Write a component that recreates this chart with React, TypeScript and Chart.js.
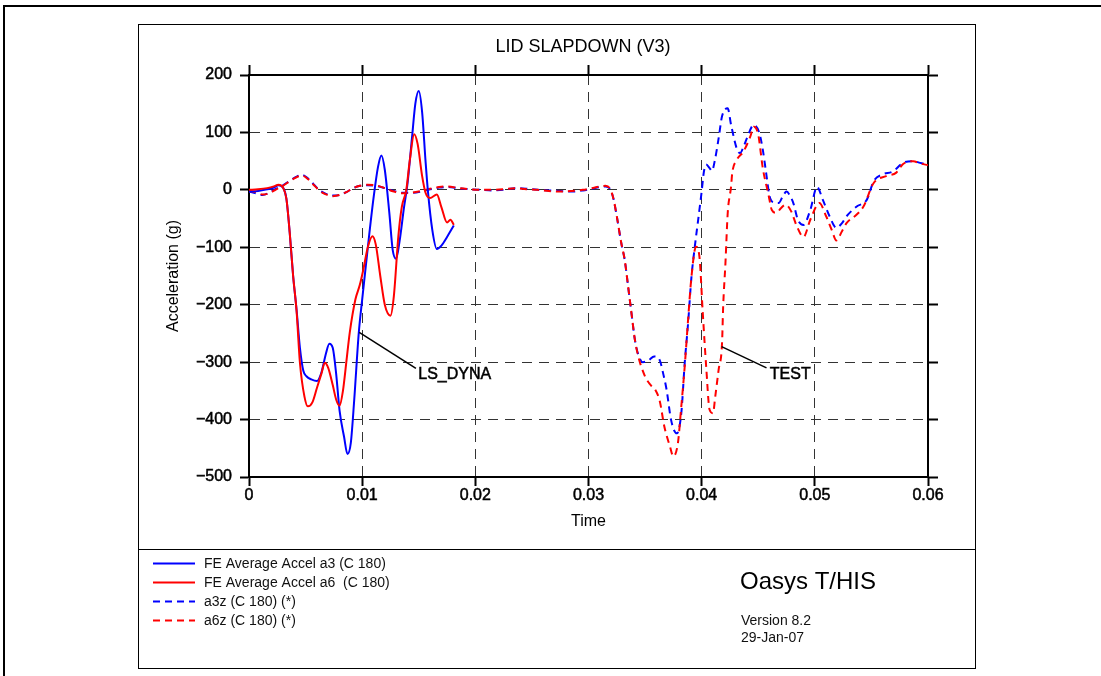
import React, { useEffect, useRef } from 'react';
import { Chart, registerables } from 'chart.js';

Chart.register(...registerables);

const FONT = "'Liberation Sans', Arial, Helvetica, sans-serif";

// ---------- DATA ----------
const chartTitle = 'LID SLAPDOWN (V3)';
const xAxisTitle = 'Time';
const yAxisTitle = 'Acceleration (g)';

const xTickValues = [0, 0.01, 0.02, 0.03, 0.04, 0.05, 0.06];
const xTickLabels = ['0', '0.01', '0.02', '0.03', '0.04', '0.05', '0.06'];
const yTickValues = [-500, -400, -300, -200, -100, 0, 100, 200];
const yTickLabels = ['\u2212500', '\u2212400', '\u2212300', '\u2212200', '\u2212100', '0', '100', '200'];

const seriesLabels = [
  'FE Average Accel a3 (C 180)',
  'FE Average Accel a6  (C 180)',
  'a3z (C 180) (*)',
  'a6z (C 180) (*)',
];

// FE Average Accel a3 (solid blue) [time, g]
const feA3Points: [number, number][] = [
  [0, -3], [0.0008, -2], [0.0016, 1], [0.0022, 4], [0.0026, 8], [0.0030, 4], [0.0033, -15],
  [0.0036, -75], [0.0039, -150], [0.0042, -208], [0.0045, -275], [0.0048, -315], [0.0051, -325],
  [0.0055, -330], [0.0060, -333], [0.0064, -318], [0.0068, -285], [0.0071, -268], [0.0074, -275],
  [0.0077, -320], [0.0080, -384], [0.0084, -430], [0.0087, -460], [0.0090, -440], [0.0093, -365],
  [0.0097, -249], [0.0100, -191], [0.0105, -100], [0.0110, -15], [0.0114, 40], [0.0117, 60],
  [0.0120, 35], [0.0124, -40], [0.0127, -105], [0.0130, -120], [0.0133, -90], [0.0137, -30],
  [0.0140, 10], [0.0144, 90], [0.0147, 150], [0.0150, 172], [0.0153, 135], [0.0156, 50],
  [0.0158, 0], [0.0162, -70], [0.0166, -103], [0.0170, -97], [0.0175, -82], [0.0181, -62],
];

// FE Average Accel a6 (solid red)
const feA6Points: [number, number][] = [
  [0, 0], [0.0008, 1], [0.0016, 3], [0.0022, 6], [0.0026, 9], [0.0030, 4], [0.0033, -15],
  [0.0036, -75], [0.0039, -150], [0.0042, -210], [0.0045, -301], [0.0049, -360], [0.0052, -377],
  [0.0056, -370], [0.0060, -345], [0.0064, -320], [0.0067, -301], [0.0070, -310], [0.0074, -340],
  [0.0077, -365], [0.0080, -376], [0.0083, -350], [0.0086, -300], [0.0089, -249], [0.0094, -191],
  [0.0098, -165], [0.0101, -139], [0.0105, -100], [0.0109, -81], [0.0112, -95], [0.0116, -150],
  [0.0120, -200], [0.0125, -219], [0.0128, -185], [0.0132, -80], [0.0135, -30], [0.0139, 0],
  [0.0142, 50], [0.0146, 97], [0.0149, 80], [0.0153, 24], [0.0156, -5], [0.0160, -14],
  [0.0166, -8], [0.0170, -30], [0.0175, -57], [0.0178, -52], [0.0181, -61],
];

// a3z test (dashed blue)
const a3zPoints: [number, number][] = [
  [0, -3], [0.0006, -6], [0.0012, -9], [0.0018, -5], [0.0024, 2], [0.0030, 8], [0.0036, 16],
  [0.0042, 23], [0.0047, 26], [0.0052, 20], [0.0057, 10], [0.0062, 0], [0.0068, -7], [0.0074, -10],
  [0.0080, -9], [0.0086, -4], [0.0092, 3], [0.0098, 7], [0.0105, 8], [0.0112, 7], [0.0120, 3],
  [0.0128, -2], [0.0136, -5], [0.0144, -5], [0.0152, -3], [0.0160, 1], [0.0168, 4], [0.0176, 5],
  [0.0185, 3], [0.0195, 1], [0.0205, 0], [0.0215, -1], [0.0225, 0], [0.0235, 3], [0.0245, 2],
  [0.0255, 0], [0.0265, -1], [0.0275, -2], [0.0285, -3], [0.0295, -1], [0.0303, 2], [0.0310, 5],
  [0.0315, 6], [0.0319, 2], [0.0322, -15], [0.0325, -46], [0.0329, -93], [0.0332, -122],
  [0.0335, -168], [0.0338, -215], [0.0341, -261], [0.0344, -287], [0.0348, -300], [0.0353, -297],
  [0.0358, -290], [0.0363, -297], [0.0366, -320], [0.0369, -348], [0.0373, -401], [0.0378, -424],
  [0.0382, -389], [0.0385, -302], [0.0388, -232], [0.0391, -151], [0.0394, -98], [0.0398, -35],
  [0.0400, -3], [0.0402, 32], [0.0404, 44], [0.0407, 38], [0.0409, 33], [0.0412, 55], [0.0415, 90],
  [0.0418, 128], [0.0423, 142], [0.0426, 113], [0.0431, 72], [0.0434, 64], [0.0437, 75],
  [0.0440, 90], [0.0446, 113], [0.0451, 99], [0.0454, 70], [0.0457, 29], [0.0460, -11],
  [0.0464, -22], [0.0468, -23], [0.0472, -10], [0.0475, -3], [0.0478, -10], [0.0481, -23],
  [0.0485, -52], [0.0490, -61], [0.0496, -35], [0.0502, 5], [0.0507, -17], [0.0513, -46],
  [0.0519, -66], [0.0524, -58], [0.0528, -46], [0.0537, -29], [0.0546, -17], [0.0552, 15],
  [0.0560, 27], [0.0569, 32], [0.0578, 47], [0.0587, 50], [0.0593, 47], [0.0600, 44],
];

// a6z test (dashed red)
const a6zPoints: [number, number][] = [
  [0, -2], [0.0006, -4], [0.0012, -8], [0.0018, -6], [0.0024, 1], [0.0030, 7], [0.0036, 15],
  [0.0042, 22], [0.0047, 25], [0.0052, 19], [0.0057, 9], [0.0062, -1], [0.0068, -8], [0.0074, -11],
  [0.0080, -9], [0.0086, -4], [0.0092, 3], [0.0098, 7], [0.0105, 9], [0.0112, 8], [0.0120, 3],
  [0.0128, -3], [0.0136, -6], [0.0144, -5], [0.0152, -2], [0.0160, 2], [0.0168, 5], [0.0176, 6],
  [0.0185, 3], [0.0195, 1], [0.0205, 0], [0.0215, 0], [0.0225, 1], [0.0235, 3], [0.0245, 1],
  [0.0255, 0], [0.0265, -2], [0.0275, -3], [0.0285, -2], [0.0295, 0], [0.0303, 3], [0.0310, 6],
  [0.0315, 7], [0.0319, 2], [0.0322, -15], [0.0325, -46], [0.0329, -93], [0.0332, -122],
  [0.0335, -168], [0.0338, -215], [0.0341, -261], [0.0344, -290], [0.0350, -325], [0.0355, -340],
  [0.0359, -348], [0.0363, -368], [0.0367, -412], [0.0372, -447], [0.0375, -464], [0.0379, -441],
  [0.0382, -377], [0.0385, -308], [0.0388, -226], [0.0391, -151], [0.0395, -99], [0.0398, -116],
  [0.0401, -215], [0.0404, -308], [0.0407, -383], [0.0410, -389], [0.0412, -360], [0.0415, -313],
  [0.0418, -267], [0.0419, -203], [0.0421, -128], [0.0423, -41], [0.0426, 6], [0.0427, 29],
  [0.0431, 52], [0.0437, 67], [0.0443, 93], [0.0446, 110], [0.0450, 96], [0.0454, 38],
  [0.0459, -8], [0.0462, -35], [0.0466, -40], [0.0470, -32], [0.0474, -26], [0.0479, -37],
  [0.0484, -63], [0.0490, -82], [0.0496, -52], [0.0504, -23], [0.0510, -46], [0.0515, -70],
  [0.0519, -88], [0.0524, -72], [0.0528, -58], [0.0537, -43], [0.0543, -29], [0.0552, 12],
  [0.0563, 24], [0.0572, 30], [0.0578, 45], [0.0587, 50], [0.0593, 46], [0.0600, 43],
];

// Leader-line labels (data coordinates: anchor on curve, elbow, text start)
const annotationLabels = ['LS_DYNA', 'TEST'];
const annotationAnchors: [number, number][] = [[0.00974, -248], [0.04176, -273]];
const annotationEnds: [number, number][] = [[0.01475, -311], [0.04573, -310]];
const annotationTextAt: [number, number][] = [[0.01496, -322], [0.04602, -321]];

const brandTitle = 'Oasys T/HIS';
const brandLines = ['Version 8.2', '29-Jan-07'];

// ---------- STYLES ----------
const BLUE = '#0000ff';
const RED = '#ff0000';
const DASH = [7, 5];
const GRID_DASH = [10, 7];

const toXY = (pts: [number, number][]) => pts.map(([x, y]) => ({ x, y }));

const decorPlugin = {
  id: 'decor',
  afterDraw(chart: any) {
    const ctx: CanvasRenderingContext2D = chart.ctx;
    const xs = chart.scales.x;
    const ys = chart.scales.y;
    ctx.save();

    // outer frame (top + left)
    ctx.strokeStyle = '#000';
    ctx.lineWidth = 2;
    ctx.setLineDash([]);
    ctx.beginPath();
    ctx.moveTo(4, 676);
    ctx.lineTo(4, 6);
    ctx.lineTo(1101, 6);
    ctx.stroke();

    // inner frame & separator
    ctx.lineWidth = 1;
    ctx.strokeStyle = '#000';
    ctx.strokeRect(138.5, 24.5, 837, 644);
    ctx.beginPath();
    ctx.moveTo(138, 549.5);
    ctx.lineTo(976, 549.5);
    ctx.stroke();

    // title
    ctx.fillStyle = '#000';
    ctx.font = `18px ${FONT}`;
    ctx.textAlign = 'center';
    ctx.textBaseline = 'middle';
    ctx.fillText(chartTitle, 583, 47);

    // annotations
    ctx.font = `16px ${FONT}`;
    ctx.textAlign = 'left';
    annotationLabels.forEach((lab, i) => {
      const ax = xs.getPixelForValue(annotationAnchors[i][0]);
      const ay = ys.getPixelForValue(annotationAnchors[i][1]);
      const ex = xs.getPixelForValue(annotationEnds[i][0]);
      const ey = ys.getPixelForValue(annotationEnds[i][1]);
      ctx.lineWidth = 1.5;
      ctx.beginPath();
      ctx.moveTo(ax, ay);
      ctx.lineTo(ex, ey);
      ctx.stroke();
      const tx = xs.getPixelForValue(annotationTextAt[i][0]);
      const ty = ys.getPixelForValue(annotationTextAt[i][1]);
      ctx.lineWidth = 0.5;
      ctx.strokeText(lab, tx, ty);
      ctx.fillText(lab, tx, ty);
    });

    // legend
    ctx.font = `14px ${FONT}`;
    ctx.textBaseline = 'middle';
    chart.data.datasets.forEach((ds: any, i: number) => {
      const y = 563.5 + i * 19;
      ctx.strokeStyle = ds.borderColor;
      ctx.lineWidth = 2;
      ctx.setLineDash(ds.borderDash || []);
      ctx.beginPath();
      ctx.moveTo(153, y);
      ctx.lineTo(195, y);
      ctx.stroke();
      ctx.setLineDash([]);
      ctx.fillStyle = '#111';
      ctx.fillText(ds.label, 204, y + 0.5);
    });

    // brand block
    ctx.fillStyle = '#000';
    ctx.font = `24px ${FONT}`;
    ctx.fillText(brandTitle, 740, 582);
    ctx.font = `14px ${FONT}`;
    ctx.fillStyle = '#111';
    brandLines.forEach((t, i) => ctx.fillText(t, 741, 621.5 + i * 17));

    ctx.restore();
  },
};

const setXTicks = (scale: any) => {
  scale.ticks = xTickValues.map((v) => ({ value: v }));
};
const setYTicks = (scale: any) => {
  scale.ticks = yTickValues.map((v) => ({ value: v }));
};

const gridCommon = {
  color: '#333',
  lineWidth: 1,
  drawTicks: true,
  tickLength: 9,
  tickColor: '#000',
  tickWidth: 2,
  tickBorderDash: [],
};

const tickFont = { family: FONT, size: 16 };

export default function App() {
  const ref = useRef<HTMLCanvasElement>(null);

  useEffect(() => {
    if (!ref.current) return;
    const lineDs = (label: string, pts: [number, number][], color: string, dashed: boolean, order: number) => ({
      label,
      data: toXY(pts),
      borderColor: color,
      backgroundColor: color,
      borderWidth: 2,
      borderDash: dashed ? DASH : [],
      pointRadius: 0,
      fill: false,
      cubicInterpolationMode: 'monotone' as const,
      order,
    });

    const chart = new Chart(ref.current, {
      type: 'line',
      data: {
        datasets: [
          lineDs(seriesLabels[0], feA3Points, BLUE, false, 1),
          lineDs(seriesLabels[1], feA6Points, RED, false, 0),
          lineDs(seriesLabels[2], a3zPoints, BLUE, true, 3),
          lineDs(seriesLabels[3], a6zPoints, RED, true, 2),
        ],
      },
      options: {
        responsive: false,
        animation: false,
        devicePixelRatio: 1,
        parsing: false as any,
        normalized: true,
        layout: { padding: { left: 140, right: 73, top: 40, bottom: 100 } },
        plugins: {
          legend: { display: false },
          tooltip: { enabled: false },
          title: { display: false },
        },
        scales: {
          x: {
            type: 'linear',
            position: 'bottom',
            min: 0,
            max: 0.06,
            afterBuildTicks: setXTicks,
            afterFit: (s: any) => { s.height = 99; },
            ticks: {
              autoSkip: false,
              maxRotation: 0,
              padding: 0,
              color: '#000',
              textStrokeColor: '#000',
              textStrokeWidth: 0.5,
              font: tickFont,
              callback: (_v: any, i: number) => xTickLabels[i],
            },
            grid: gridCommon,
            border: { display: true, color: '#000', width: 2, dash: GRID_DASH },
            title: {
              display: true,
              text: xAxisTitle,
              color: '#000',
              font: { family: FONT, size: 16 },
              padding: { top: 0, bottom: 45 },
            },
          },
          x2: {
            type: 'linear',
            position: 'top',
            min: 0,
            max: 0.06,
            afterBuildTicks: setXTicks,
            afterFit: (s: any) => { s.height = 35; },
            ticks: { display: false },
            grid: { ...gridCommon, drawOnChartArea: false, tickLength: 10 },
            border: { display: true, color: '#000', width: 2 },
          },
          y: {
            type: 'linear',
            position: 'left',
            min: -500,
            max: 200,
            afterBuildTicks: setYTicks,
            afterFit: (s: any) => { s.width = 109; },
            ticks: {
              autoSkip: false,
              padding: 8,
              color: '#000',
              textStrokeColor: '#000',
              textStrokeWidth: 0.5,
              font: tickFont,
              callback: (_v: any, i: number) => yTickLabels[i],
            },
            grid: gridCommon,
            border: { display: true, color: '#000', width: 2, dash: GRID_DASH },
            title: {
              display: true,
              text: yAxisTitle,
              color: '#000',
              font: { family: FONT, size: 16 },
              padding: { top: 24, bottom: 0 },
            },
          },
          y2: {
            type: 'linear',
            position: 'right',
            min: -500,
            max: 200,
            afterBuildTicks: setYTicks,
            afterFit: (s: any) => { s.width = 100; },
            ticks: { display: false },
            grid: { ...gridCommon, drawOnChartArea: false, tickLength: 10 },
            border: { display: true, color: '#000', width: 2 },
          },
        },
      } as any,
      plugins: [decorPlugin],
    });
    return () => chart.destroy();
  }, []);

  return (
    <div style={{ position: 'fixed', left: 0, top: 0, width: 1101, height: 676, background: '#fff' }}>
      <canvas ref={ref} width={1101} height={676} style={{ display: 'block', width: 1101, height: 676 }} />
    </div>
  );
}
